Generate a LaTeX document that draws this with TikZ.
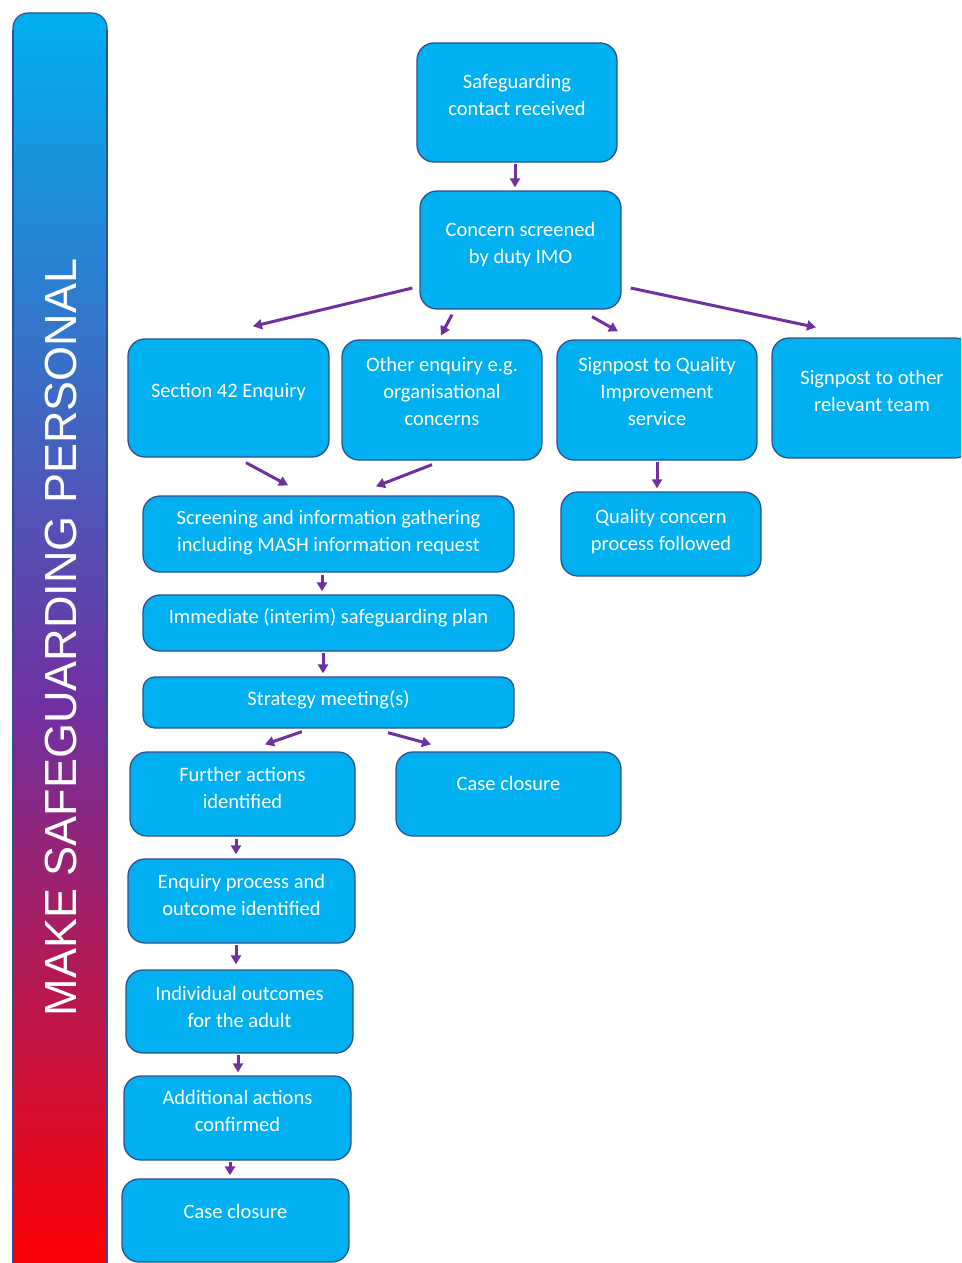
\documentclass[tikz,border=0pt]{standalone}
\usepackage{fontspec}
\setmainfont{Carlito}
\newfontfamily\barfont{Liberation Sans}
\usetikzlibrary{arrows.meta,calc}
\definecolor{boxfill}{HTML}{00B0F0}
\definecolor{boxline}{HTML}{2F528F}
\definecolor{arrcol}{HTML}{7030A0}
\definecolor{barcyan}{HTML}{00B0F0}
\definecolor{barpurple}{HTML}{7030A0}
\definecolor{barred}{HTML}{FF0000}
\pgfdeclareverticalshading{barshade}{100bp}{color(0bp)=(barred); color(25bp)=(barred); color(47.5bp)=(barpurple); color(75bp)=(barcyan); color(100bp)=(barcyan)}
\newcommand\bt[2][6pt]{\raisebox{#1}[\height][\depth]{\begin{tabular}{@{}c@{}}#2\end{tabular}}}
\tikzset{
  box/.style={draw=boxline, line width=1.3pt, fill=boxfill, rounded corners=17pt,
    inner sep=0pt, text=white, font=\fontsize{20.5}{27}\selectfont},
  arr/.style={draw=arrcol, line width=3pt, -{Triangle[length=9pt,width=10pt]}},
}
\begin{document}
\begin{tikzpicture}[x=1pt,y=-1pt]
\useasboundingbox (0,0) rectangle (961,1263);
\clip (0,0) rectangle (961,1263);
% side bar
\path[shading=barshade, draw=boxline, line width=1.2pt, rounded corners=15pt]
  (13,1275) -- (13,13) -- (107,13) -- (107,1275);
\path[draw=boxline, line width=1.2pt] (13,1275) -- (13,30) (107,30) -- (107,1275);
\node[rotate=90, text=white, font=\barfont\fontsize{45}{50}\selectfont, inner sep=0pt] (bar) at (61,637.5) {MAKE SAFEGUARDING PERSONAL};
% boxes
\node[box, minimum width=200, minimum height=119] (n1) at (517,102.5) {\bt[5.5pt]{Safeguarding\\contact received}};
\node[box, minimum width=201, minimum height=118] (n2) at (520.5,250) {\bt[5.5pt]{Concern screened\\by duty IMO}};
\node[box, minimum width=201, minimum height=118] (n3) at (228.5,398) {\bt[5.5pt]{Section 42 Enquiry}};
\node[box, minimum width=200, minimum height=120] (n4) at (442,400) {\bt[7pt]{Other enquiry e.g.\\organisational\\concerns}};
\node[box, minimum width=200, minimum height=120] (n5) at (657,400) {\bt[7pt]{Signpost to Quality\\Improvement\\service}};
\node[box, minimum width=200, minimum height=120] (n6) at (872,398) {\bt[5.5pt]{Signpost to other\\relevant team}};
\node[box, minimum width=371, minimum height=76] (n7) at (328.5,534) {\bt[1pt]{Screening and information gathering\\including MASH information request}};
\node[box, minimum width=200, minimum height=84] (n8) at (661,534) {\bt[2pt]{Quality concern\\process followed}};
\node[box, minimum width=371, minimum height=56] (n9) at (328.5,623) {\bt[5pt]{Immediate (interim) safeguarding plan}};
\node[box, minimum width=371, minimum height=51, rounded corners=12pt] (n10) at (328.5,702.5) {\bt[2pt]{Strategy meeting(s)}};
\node[box, minimum width=225, minimum height=84] (n11) at (242.5,794) {\bt[4pt]{Further actions\\identified}};
\node[box, minimum width=225, minimum height=84] (n12) at (508.5,794) {\bt[9pt]{Case closure}};
\node[box, minimum width=227, minimum height=84] (n13) at (241.5,901) {\bt[4.5pt]{Enquiry process and\\outcome identified}};
\node[box, minimum width=227, minimum height=83] (n14) at (239.5,1011.5) {\bt[3pt]{Individual outcomes\\for the adult}};
\node[box, minimum width=227, minimum height=84] (n15) at (237.5,1118) {\bt[5pt]{Additional actions\\confirmed}};
\node[box, minimum width=227, minimum height=83] (n16) at (235.5,1220.5) {\bt[7pt]{Case closure}};
% connectors
\draw[arr] ($(n1.south)+(-2,1)$) -- ($(n2.north)+(-5.5,-3)$);
\draw[arr] ($(n2.west)+(-7,38)$) -- ($(n3.north)+(24.5,-12)$);
\draw[arr] ($(n2.south)+(-68.5,5)$) -- ($(n4.north)+(-1,-4)$);
\draw[arr] ($(n2.south)+(71.5,7)$) -- ($(n5.north)+(-39,-8)$);
\draw[arr] ($(n2.east)+(9,38)$) -- ($(n6.north)+(-56,-10)$);
\draw[arr] ($(n3.south)+(17.5,5)$) -- ($(n7.north)+(-40.5,-10)$);
\draw[arr] ($(n4.south)+(-10,4)$) -- ($(n7.north)+(47.5,-9)$);
\draw[arr] ($(n5.south)+(0,1)$) -- ($(n8.north)+(-4,-3)$);
\draw[arr] ($(n7.south)+(-6.5,2)$) -- ($(n9.north)+(-6.5,-3)$);
\draw[arr] ($(n9.south)+(-5.5,1)$) -- ($(n10.north)+(-5.5,-3)$);
\draw[arr] ($(n10.south)+(-26.5,3)$) -- ($(n11.north)+(22.5,-7)$);
\draw[arr] ($(n10.south)+(59.5,4)$) -- ($(n12.north)+(-77.5,-7)$);
\draw[arr] ($(n11.south)+(-6.5,2)$) -- ($(n13.north)+(-5.5,-4)$);
\draw[arr] ($(n13.south)+(-5.5,1)$) -- ($(n14.north)+(-3.5,-5)$);
\draw[arr] ($(n14.south)+(-1.5,1)$) -- ($(n15.north)+(0.5,-3)$);
\draw[arr] ($(n15.south)+(-7.5,1)$) -- ($(n16.north)+(-5.5,-3)$);
\end{tikzpicture}
\end{document}
